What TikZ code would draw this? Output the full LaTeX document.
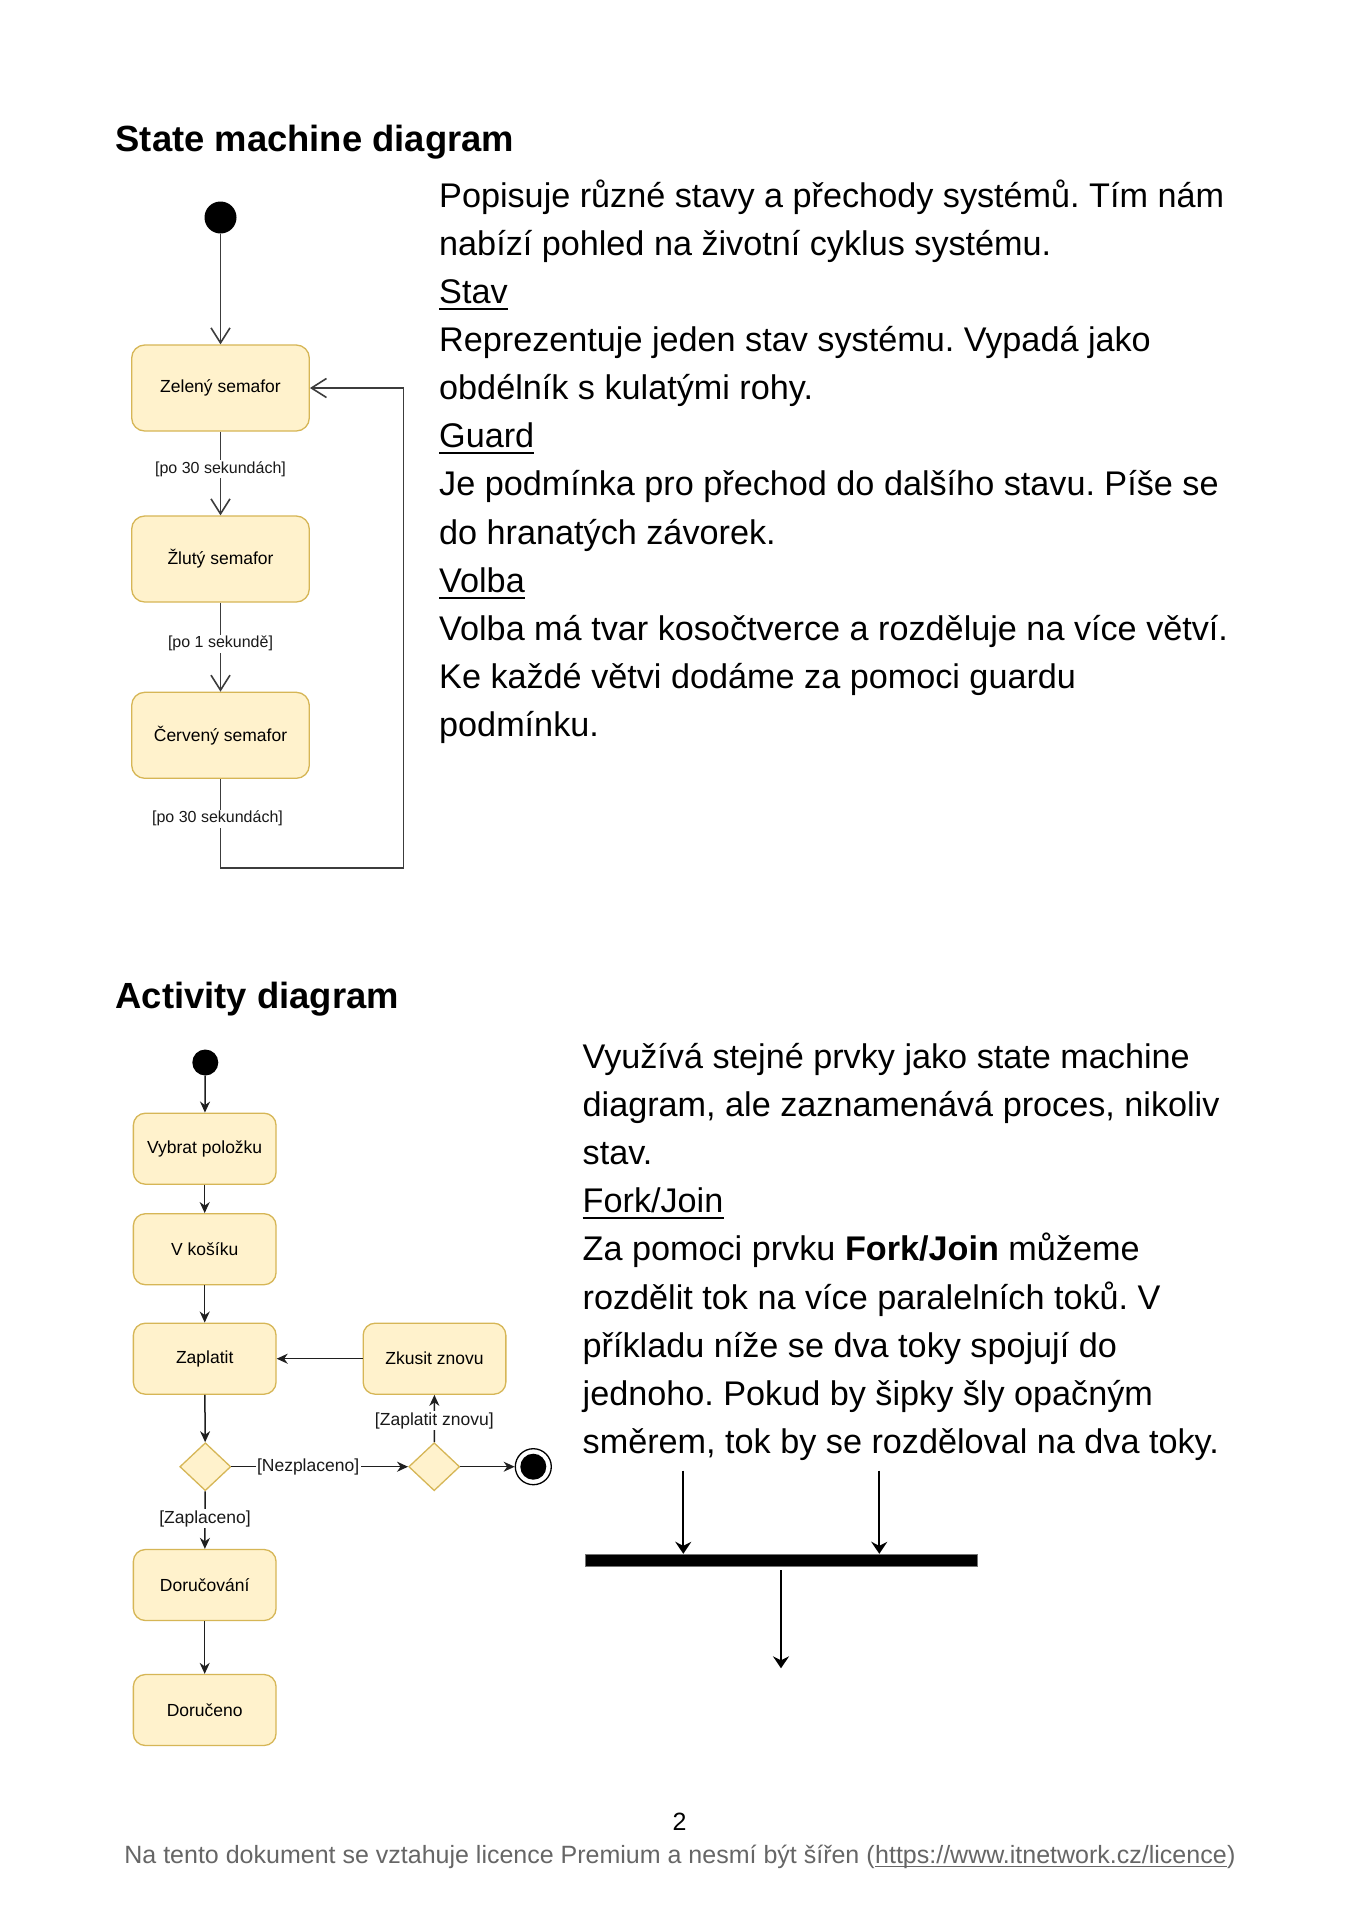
\documentclass[tikz,border=0pt]{standalone}
\usepackage{fontspec}
\setmainfont{Liberation Sans}
\usetikzlibrary{arrows.meta,shapes.geometric}
\definecolor{boxfill}{HTML}{FFF2CC}
\definecolor{boxline}{HTML}{D6B656}
\definecolor{sline}{HTML}{3C3C3C}
\definecolor{foot}{HTML}{666666}
\frenchspacing
\begin{document}
\begin{tikzpicture}[x=1pt,y=-1pt,
  ttl/.style={anchor=base west, inner sep=0, font=\bfseries\fontsize{36.4}{40}\selectfont},
  txt/.style={anchor=base west, inner sep=0, font=\fontsize{34.2}{40}\selectfont},
  uline/.style={line width=2.2pt, black},
  state/.style={rectangle, rounded corners=13pt, fill=boxfill, draw=boxline, line width=1.3pt,
    minimum width=177.6pt, minimum height=86pt, inner sep=0, font=\fontsize{17.5}{20}\selectfont},
  act/.style={rectangle, rounded corners=12pt, fill=boxfill, draw=boxline, line width=1.3pt,
    minimum width=142.7pt, minimum height=71pt, inner sep=0, font=\fontsize{17.5}{20}\selectfont},
  dia/.style={diamond, fill=boxfill, draw=boxline, line width=1.3pt, inner sep=0,
    minimum width=51pt, minimum height=48pt},
  sdot/.style={circle, fill=black, inner sep=0},
  sarrow/.style={draw=sline, line width=1.6pt, -{Straight Barb[length=15pt,width=19pt]}},
  aarrow/.style={draw=black!88, line width=1.5pt, -{Stealth[length=11pt,width=10pt,inset=3.5pt]}},
  farrow/.style={draw=black, line width=2pt, -{Stealth[length=12pt,width=16pt,inset=4pt]}},
  slabel/.style={fill=white, inner sep=1.5pt, text=black!90, font=\fontsize{16}{18}\selectfont},
  alabel/.style={fill=white, inner sep=1.5pt, text=black!90, font=\fontsize{17.5}{20}\selectfont},
  foottxt/.style={anchor=base west, inner sep=0, text=foot, font=\fontsize{25}{28}\selectfont}
]
\fill[white] (0,0) rectangle (1359,1920);
\useasboundingbox (0,0) rectangle (1359,1920);

% ---------- titles
\node[ttl] (t1) at (115.5,151.7) {State machine diagram};
\node[ttl] (t2) at (115.5,1008.3) {Activity diagram};

% ---------- upper text
\node[txt] (u1) at (439,207.3) {Popisuje různé stavy a přechody systémů. Tím nám};
\node[txt] (u2) at (439,255.4) {nabízí pohled na životní cyklus systému.};
\node[txt] (u3) at (439,303.5) {Stav};
\node[txt] (u4) at (439,351.6) {Reprezentuje jeden stav systému. Vypadá jako};
\node[txt] (u5) at (439,399.7) {obdélník s kulatými rohy.};
\node[txt] (u6) at (439,447.8) {Guard};
\node[txt] (u7) at (439,495.9) {Je podmínka pro přechod do dalšího stavu. Píše se};
\node[txt] (u8) at (439,544.0) {do hranatých závorek.};
\node[txt] (u9) at (439,592.1) {Volba};
\node[txt] (u10) at (439,640.2) {Volba má tvar kosočtverce a rozděluje na více větví.};
\node[txt] (u11) at (439,688.3) {Ke každé větvi dodáme za pomoci guardu};
\node[txt] (u12) at (439,736.4) {podmínku.};
\draw[uline] ([yshift=-5.5pt]u3.base west) -- ([yshift=-5.5pt]u3.base east);
\draw[uline] ([yshift=-5.5pt]u6.base west) -- ([yshift=-5.5pt]u6.base east);
\draw[uline] ([yshift=-5.5pt]u9.base west) -- ([yshift=-5.5pt]u9.base east);

% ---------- lower text
\node[txt] (l1) at (582.5,1068.5) {Využívá stejné prvky jako state machine};
\node[txt] (l2) at (582.5,1116.6) {diagram, ale zaznamenává proces, nikoliv};
\node[txt] (l3) at (582.5,1164.7) {stav.};
\node[txt] (l4) at (582.5,1212.8) {Fork/Join};
\node[txt] (l5) at (582.5,1260.9) {Za pomoci prvku \textbf{Fork/Join} můžeme};
\node[txt] (l6) at (582.5,1309.0) {rozdělit tok na více paralelních toků. V};
\node[txt] (l7) at (582.5,1357.1) {příkladu níže se dva toky spojují do};
\node[txt] (l8) at (582.5,1405.2) {jednoho. Pokud by šipky šly opačným};
\node[txt] (l9) at (582.5,1453.3) {směrem, tok by se rozděloval na dva toky.};
\draw[uline] ([yshift=-5.5pt]l4.base west) -- ([yshift=-5.5pt]l4.base east);

% ---------- state machine diagram
\node[sdot, minimum size=32pt] (s0) at (220.5,217.5) {};
\node[state] (z) at (220.5,388) {Zelený semafor};
\node[state] (y) at (220.5,559) {Žlutý semafor};
\node[state] (r) at (220.5,735.3) {Červený semafor};
\coordinate (lb) at (220.5,867.7);
\coordinate (rb) at (403.3,867.7);
\coordinate (rt) at (403.3,388);
\draw[sarrow] (s0) -- (z);
\draw[sarrow] (z) -- node[slabel, pos=0.45] {[po 30 sekundách]} (y);
\draw[sarrow] (y) -- node[slabel, pos=0.46] {[po 1 sekundě]} (r);
\draw[sarrow] (r.south) -- node[slabel, pos=0.447, xshift=-3pt] {[po 30 sekundách]} (lb) -- (rb) -- (rt) -- (z.east);

% ---------- activity diagram
\node[sdot, minimum size=26pt] (a0) at (205.3,1062.5) {};
\node[act] (v) at (204.7,1148.7) {Vybrat položku};
\node[act] (k) at (204.7,1249.2) {V košíku};
\node[act] (p) at (204.7,1358.7) {Zaplatit};
\node[act] (zn) at (434.5,1358.7) {Zkusit znovu};
\node[dia] (d1) at (205.3,1466.7) {};
\node[dia] (d2) at (434.2,1466.7) {};
\node[circle, draw=black, line width=1.3pt, fill=white, minimum size=36pt, inner sep=0] (f) at (533.3,1466.7) {};
\node[sdot, minimum size=26pt] (fc) at (f.center) {};
\node[act] (dv) at (204.7,1585) {Doručování};
\node[act] (dn) at (204.7,1710) {Doručeno};
\draw[aarrow] (a0) -- (v);
\draw[aarrow] (v) -- (k);
\draw[aarrow] (k) -- (p);
\draw[aarrow] (zn) -- (p);
\draw[aarrow] (p) -- (d1);
\draw[aarrow] (d1) -- node[alabel, pos=0.434] {[Nezplaceno]} (d2);
\draw[aarrow] (d2) -- node[alabel, pos=0.455] {[Zaplatit znovu]} (zn);
\draw[aarrow] (d2) -- (f);
\draw[aarrow] (d1) -- node[alabel, pos=0.477] {[Zaplaceno]} (dv);
\draw[aarrow] (dv) -- (dn);

% ---------- fork / join
\node[rectangle, fill=black, draw=black!55, line width=1pt, minimum width=392pt, minimum height=12.4pt, inner sep=0] (bar) at (781.2,1560.5) {};
\coordinate (f1) at (683.3,1470.7);
\coordinate (f2) at (879.3,1470.7);
\coordinate (f3) at (781,1668.3);
\draw[farrow] (f1) -- (f1 |- bar.north);
\draw[farrow] (f2) -- (f2 |- bar.north);
\draw[farrow, shorten <=3pt] (bar.south -| f3) -- (f3);

% ---------- footer
\node[anchor=base, inner sep=0, font=\fontsize{25}{28}\selectfont] (pg) at (679.5,1830) {2};
\node[foottxt] (ft1) at (124.2,1863) {Na tento dokument se vztahuje licence Premium a nesmí být šířen (};
\node[foottxt] (ft2) at (ft1.base east) {https://www.itnetwork.cz/licence};
\node[foottxt] (ft3) at (ft2.base east) {)};
\draw[foot, line width=1.5pt] ([yshift=-3.5pt]ft2.base west) -- ([yshift=-3.5pt]ft2.base east);
\end{tikzpicture}
\end{document}
